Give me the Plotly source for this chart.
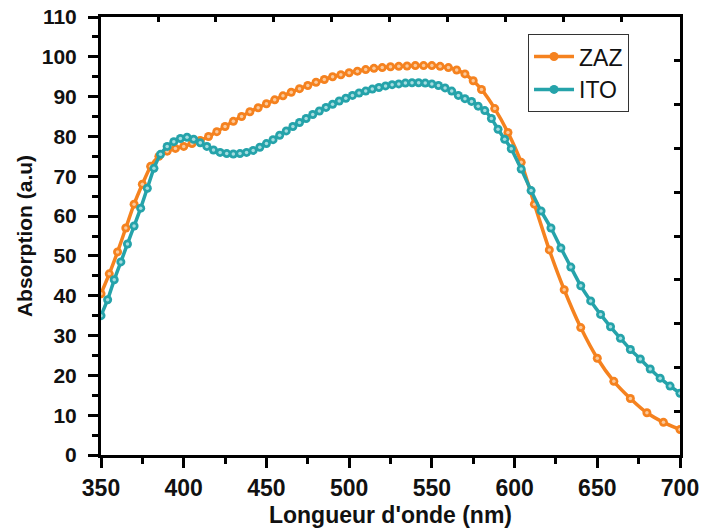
import plotly.graph_objects as go

# ---- data ----
zaz_wl = [350, 355, 360, 365, 370, 375, 380, 385, 390, 395, 400, 405, 410, 415, 420,
          425, 430, 435, 440, 445, 450, 455, 460, 465, 470, 475, 480, 485, 490, 495,
          500, 505, 510, 515, 520, 525, 530, 535, 540, 545, 550, 555, 560, 565, 570,
          575, 580, 588, 596, 604, 612, 621, 630, 640, 650, 660, 670, 680, 690, 700]
zaz_abs = [40.5, 45.5, 51.0, 57.0, 63.0, 68.0, 72.5, 75.0, 76.3, 77.0, 77.5, 78.2, 79.0, 80.0, 81.2,
           82.5, 83.8, 85.0, 86.2, 87.2, 88.2, 89.2, 90.2, 91.1, 92.0, 92.8, 93.6, 94.3, 95.0, 95.5,
           96.0, 96.4, 96.8, 97.1, 97.3, 97.5, 97.6, 97.7, 97.8, 97.8, 97.8, 97.6, 97.3, 96.7, 95.7,
           94.0, 91.8, 87.0, 81.0, 73.5, 63.0, 51.5, 41.5, 32.0, 24.3, 18.5, 14.2, 10.6, 8.2, 6.4]

ito_wl = [350, 354, 358, 362, 366, 370, 374, 378, 382, 386, 390, 394, 398, 402, 406,
          410, 414, 418, 422, 426, 430, 434, 438, 442, 446, 450, 454, 458, 462, 466,
          470, 474, 478, 482, 486, 490, 494, 498, 502, 506, 510, 514, 518, 522, 526,
          530, 534, 538, 542, 546, 550, 554, 558, 562, 566, 570, 574, 578, 582, 586,
          590, 594, 598, 604, 610, 616, 622, 628, 634, 640, 646, 652, 658, 664, 670,
          676, 682, 688, 694, 700]
ito_abs = [35.0, 39.0, 44.0, 48.5, 53.0, 57.5, 62.0, 67.0, 72.0, 75.5, 77.5, 78.7, 79.5, 79.8, 79.3,
           78.4, 77.5, 76.6, 76.0, 75.7, 75.6, 75.7, 76.0, 76.5, 77.3, 78.2, 79.2, 80.3, 81.4, 82.5,
           83.5, 84.5, 85.5, 86.4, 87.3, 88.1, 88.9, 89.6, 90.3, 90.9, 91.4, 91.9, 92.3, 92.7, 93.0,
           93.2, 93.4, 93.5, 93.5, 93.4, 93.2, 92.8, 92.2, 91.4, 90.3, 89.5, 88.8, 87.6, 86.5, 84.5,
           81.8, 79.3, 76.9, 71.8, 66.4, 61.3, 57.0, 52.0, 47.2, 42.5, 38.7, 35.3, 32.2, 29.3, 26.5,
           24.1, 21.6, 19.3, 17.3, 15.5]

series_names = ["ZAZ", "ITO"]
series_colors = ["#F5821F", "#25A3AA"]
highlight_colors = ["#FBC99B", "#A6DDE0"]

x_range = [350, 700]
y_range = [0, 110]

fig = go.Figure()
for name, wl, vals, col, hl in zip(series_names, [zaz_wl, ito_wl], [zaz_abs, ito_abs],
                                    series_colors, highlight_colors):
    fig.add_trace(go.Scatter(
        x=wl, y=vals, name=name, mode="lines+markers",
        line=dict(color=col, width=3.5, shape="spline", smoothing=0.6),
        marker=dict(color=col, size=9, symbol="circle"),
    ))
    fig.add_trace(go.Scatter(
        x=wl, y=vals, mode="markers", showlegend=False, hoverinfo="skip",
        marker=dict(color=hl, size=3.5, symbol="circle"),
    ))

# invisible trace to activate the mirrored (top/right) tick axes
fig.add_trace(go.Scatter(x=ito_wl, y=ito_abs, xaxis="x2", yaxis="y2", mode="lines",
                         opacity=0, showlegend=False, hoverinfo="skip"))

FONT = "Liberation Sans, Arial, sans-serif"
fig.update_layout(
    width=701, height=528,
    margin=dict(l=101, r=21, t=17, b=73),
    paper_bgcolor="white", plot_bgcolor="white",
    showlegend=True,
    legend=dict(
        x=0.7375, y=0.961, xanchor="left", yanchor="top",
        bgcolor="white", bordercolor="#333", borderwidth=1,
        font=dict(family=FONT, size=23, color="#111"),
        tracegroupgap=0, itemwidth=40,
    ),
    xaxis=dict(
        range=x_range, showgrid=False, zeroline=False, automargin=False,
        showline=True, linecolor="black", linewidth=3, mirror=True,
        ticks="outside", ticklen=10, tickwidth=3, tickcolor="black",
        tick0=350, dtick=50, tickfont=dict(family=FONT, size=23, color="#111"),
        ticklabeloverflow="allow",
        minor=dict(ticks="outside", ticklen=6, tickwidth=3, tickcolor="black", dtick=25),
        title=dict(text="<b>Longueur d'onde (nm)</b>", standoff=12,
                   font=dict(family=FONT, size=23, color="#111")),
        tickprefix="<b>", ticksuffix="</b>",
    ),
    yaxis=dict(
        range=y_range, showgrid=False, zeroline=False, automargin=False,
        showline=True, linecolor="black", linewidth=3, mirror=True,
        ticks="outside", ticklen=10, tickwidth=3, tickcolor="black",
        tick0=0, dtick=10, tickfont=dict(family=FONT, size=21, color="#111"),
        ticklabeloverflow="allow", ticklabelstandoff=7,
        minor=dict(ticks="outside", ticklen=6, tickwidth=3, tickcolor="black", dtick=5),
        title=dict(text="<b>Absorption (a.u)</b>", standoff=4,
                   font=dict(family=FONT, size=21, color="#111")),
        tickprefix="<b>", ticksuffix="</b>",
    ),
    xaxis2=dict(
        overlaying="x", side="top", anchor="y", range=x_range, automargin=False,
        showgrid=False, zeroline=False, showline=False, showticklabels=False,
        ticks="inside", ticklen=5, tickwidth=3, tickcolor="black",
        tick0=384.5, dtick=35,
    ),
    yaxis2=dict(
        overlaying="y", side="right", anchor="x", range=y_range, automargin=False,
        showgrid=False, zeroline=False, showline=False, showticklabels=False,
        ticks="inside", ticklen=6, tickwidth=3, tickcolor="black",
        tick0=0, dtick=11,
    ),
)

# remove the browser's default 8px body margin so the figure sits at the window's corner
fig.write_html("out.html", config={"displayModeBar": False},
               post_script="document.body.style.margin='0px';document.body.style.overflow='hidden';")
